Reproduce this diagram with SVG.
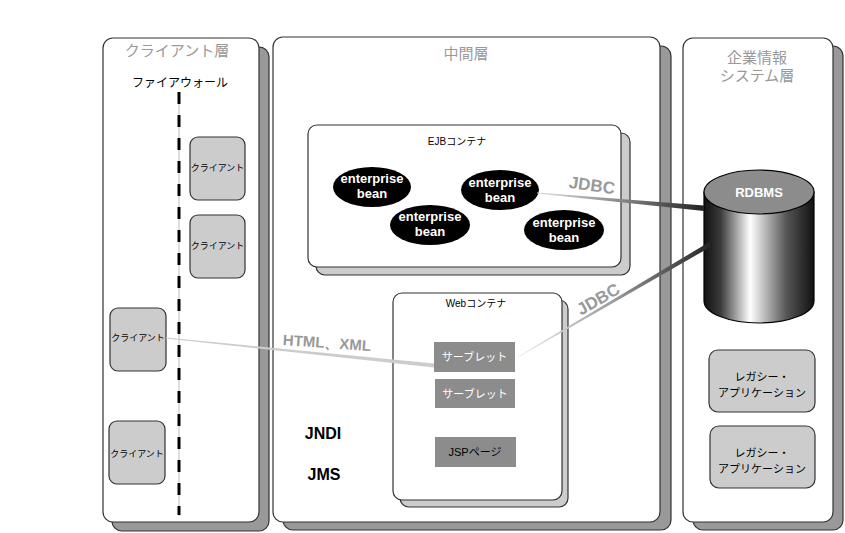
<svg xmlns="http://www.w3.org/2000/svg" width="845" height="533" viewBox="0 0 845 533">
<defs>
<linearGradient id="cyl" x1="0" y1="0" x2="1" y2="0">
<stop offset="0" stop-color="#111"/>
<stop offset="0.15" stop-color="#3a3a3a"/>
<stop offset="0.42" stop-color="#fff"/>
<stop offset="0.75" stop-color="#555"/>
<stop offset="1" stop-color="#111"/>
</linearGradient>
<linearGradient id="g1" gradientUnits="userSpaceOnUse" x1="537" y1="0" x2="704" y2="0">
<stop offset="0" stop-color="#ddd"/>
<stop offset="0.5" stop-color="#888"/>
<stop offset="1" stop-color="#222"/>
</linearGradient>
<linearGradient id="g2" gradientUnits="userSpaceOnUse" x1="518" y1="0" x2="712" y2="0">
<stop offset="0" stop-color="#eee"/>
<stop offset="0.5" stop-color="#999"/>
<stop offset="1" stop-color="#222"/>
</linearGradient>
<style>
.front{fill:#fff;stroke:#333;stroke-width:1.2}
.shd{fill:#999;stroke:#333;stroke-width:1.2}
.shl{fill:#ccc;stroke:#333;stroke-width:1.2}
.cli{fill:#ccc;stroke:#333;stroke-width:1.2}
.svl{fill:#8c8c8c}
.tt{font-family:"Liberation Sans","Noto Sans CJK JP",sans-serif;fill:#999;font-size:15px;text-anchor:middle}
.jp{font-family:"Liberation Sans","Noto Sans CJK JP",sans-serif;text-anchor:middle}
.bb{font-family:"Liberation Sans",sans-serif;font-weight:bold;text-anchor:middle}
.ell{fill:#000}
</style>
</defs>

<g id="client-tier">
<rect class="shd" x="112" y="47" width="157" height="484" rx="10"/>
<rect class="front" x="103" y="38" width="156" height="484" rx="10"/>
<text class="tt" x="177" y="56">クライアント層</text>
<text class="jp" x="180" y="87" font-size="12" fill="#000">ファイアウォール</text>
</g>

<g id="firewall">
<line x1="179" y1="92" x2="179" y2="516" stroke="#bbb" stroke-width="1"/>
<line x1="179" y1="92" x2="179" y2="515" stroke="#000" stroke-width="3" stroke-dasharray="12 11"/>
</g>

<g id="client1">
<rect class="cli" x="190" y="137" width="55" height="63" rx="8"/>
<text class="jp" x="217.5" y="171" font-size="9">クライアント</text>
</g>
<g id="client2">
<rect class="cli" x="190" y="215" width="55" height="63" rx="8"/>
<text class="jp" x="217.5" y="249" font-size="9">クライアント</text>
</g>
<g id="client3">
<rect class="cli" x="110" y="308" width="56" height="63" rx="8"/>
<text class="jp" x="138" y="341" font-size="9">クライアント</text>
</g>
<g id="client4">
<rect class="cli" x="109" y="421" width="56" height="63" rx="8"/>
<text class="jp" x="137" y="457" font-size="9">クライアント</text>
</g>

<g id="middle-tier">
<rect class="shd" x="283" y="46" width="388" height="484" rx="10"/>
<rect class="front" x="273" y="37" width="387" height="485" rx="10"/>
<text class="tt" x="466" y="59">中間層</text>
<text class="bb" x="323" y="439" font-size="16">JNDI</text>
<text class="bb" x="324" y="480" font-size="16">JMS</text>
</g>

<g id="ejb-container">
<rect class="shl" x="316" y="133" width="314" height="142" rx="9"/>
<rect class="front" x="308" y="125" width="313" height="142" rx="9"/>
<text class="jp" x="457" y="145" font-size="10">EJBコンテナ</text>
</g>

<g id="bean1">
<ellipse class="ell" cx="372" cy="187" rx="39" ry="20"/>
<text class="bb" x="372" y="183" font-size="13" fill="#fff">enterprise</text>
<text class="bb" x="372" y="198" font-size="13" fill="#fff">bean</text>
</g>
<g id="bean2">
<ellipse class="ell" cx="430" cy="225" rx="40" ry="20"/>
<text class="bb" x="430" y="221" font-size="13" fill="#fff">enterprise</text>
<text class="bb" x="430" y="236" font-size="13" fill="#fff">bean</text>
</g>
<g id="bean3">
<ellipse class="ell" cx="500" cy="190" rx="39" ry="20"/>
<text class="bb" x="500" y="187" font-size="13" fill="#fff">enterprise</text>
<text class="bb" x="500" y="202" font-size="13" fill="#fff">bean</text>
</g>
<g id="bean4">
<ellipse class="ell" cx="564" cy="230" rx="40" ry="20"/>
<text class="bb" x="564" y="227" font-size="13" fill="#fff">enterprise</text>
<text class="bb" x="564" y="242" font-size="13" fill="#fff">bean</text>
</g>

<g id="web-container">
<rect class="shl" x="400" y="300" width="168" height="207" rx="9"/>
<rect class="front" x="393" y="293" width="169" height="207" rx="9"/>
<text class="jp" x="476" y="307" font-size="10">Webコンテナ</text>
</g>
<g id="servlet1">
<rect class="svl" x="434" y="342" width="81" height="30"/>
<text class="jp" x="474.5" y="361" font-size="11" fill="#fff">サーブレット</text>
</g>
<g id="servlet2">
<rect class="svl" x="435" y="379" width="80" height="29"/>
<text class="jp" x="475" y="398" font-size="11" fill="#fff">サーブレット</text>
</g>
<g id="jsp">
<rect class="svl" x="435" y="437" width="81" height="30"/>
<text class="jp" x="475" y="456" font-size="11" fill="#000">JSPページ</text>
</g>

<g id="eis-tier">
<rect class="shd" x="693" y="46" width="150" height="484" rx="10"/>
<rect class="front" x="683" y="38" width="150" height="484" rx="10"/>
<text class="tt" x="757" y="63">企業情報</text>
<text class="tt" x="757" y="81">システム層</text>
</g>

<g id="rdbms">
<path d="M704 192 V301 A55 22 0 0 0 814 301 V192 Z" fill="url(#cyl)" stroke="#000" stroke-width="1.2"/>
<ellipse cx="759" cy="192" rx="55" ry="22" fill="#8c8c8c" stroke="#000" stroke-width="1.2"/>
<text class="bb" x="759" y="197" font-size="13" fill="#fff">RDBMS</text>
</g>

<g id="legacy1">
<rect class="cli" x="709" y="350" width="106" height="62" rx="9"/>
<text class="jp" x="762" y="381" font-size="11">レガシー・</text>
<text class="jp" x="762" y="397" font-size="11">アプリケーション</text>
</g>
<g id="legacy2">
<rect class="cli" x="710" y="426" width="105" height="62" rx="9"/>
<text class="jp" x="762" y="457" font-size="11">レガシー・</text>
<text class="jp" x="762" y="473" font-size="11">アプリケーション</text>
</g>

<g id="connectors">
<polygon points="166,337.5 166,338.5 434,367.5 434,363.5" fill="#ccc"/>
<polygon points="537,192.5 537,193.5 704,211 704,205.5" fill="url(#g1)"/>
<polygon points="518,356.5 518,357.5 713,245.5 711,241" fill="url(#g2)"/>
<text class="bb" x="327" y="348" font-size="15" fill="#999" transform="rotate(4 327 343)">HTML、XML</text>
<text class="bb" x="592" y="191" font-size="17" fill="#999" transform="rotate(8 592 185)">JDBC</text>
<text class="bb" x="598" y="305" font-size="17" fill="#999" transform="rotate(-30 598 299)">JDBC</text>
</g>
</svg>
